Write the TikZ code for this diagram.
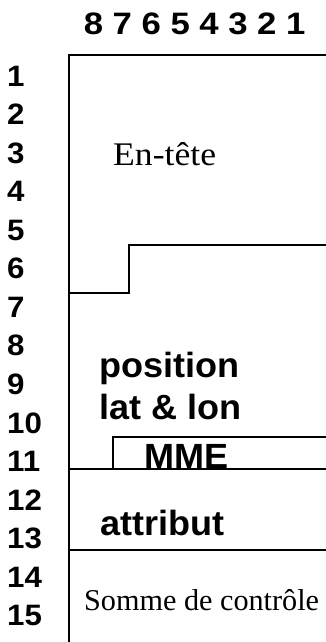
\documentclass[tikz,border=0pt]{standalone}
\usepackage{fontspec}
\setmainfont{Liberation Serif}
\setsansfont{Liberation Sans}
\newfontfamily\hdrfont[FakeStretch=1.12]{Liberation Sans Bold}
\newfontfamily\lblfont[FakeStretch=1.06]{Liberation Sans Bold}
\newfontfamily\bldfont[FakeStretch=1.03]{Liberation Sans Bold}
\newfontfamily\serA[FakeStretch=1.08]{Liberation Serif}
\begin{document}
\begin{tikzpicture}[x=1pt,y=-1pt,
  lbl/.style={inner sep=0pt,anchor=base west,font=\lblfont\fontsize{29.5}{29.5}\selectfont},
  hdr/.style={inner sep=0pt,anchor=base,font=\hdrfont\fontsize{31}{31}\selectfont},
  boldtxt/.style={inner sep=0pt,anchor=base west,font=\bldfont\fontsize{35}{35}\selectfont},
  sertxt/.style={inner sep=0pt,anchor=base west},
  rule/.style={line width=1.3pt,line cap=rect}]
\useasboundingbox (0,0) rectangle (326,642);
% header digits
\foreach \d [count=\k from 0] in {8,7,6,5,4,3,2,1}
  \node[hdr] (h\d) at ({93.5+28.9*\k},35) {\d};
% row labels
\foreach \i in {1,...,15}
  \node[lbl] (r\i) at (7,{86+38.57*(\i-1)}) {\i};
% frame lines
\draw[rule] (326,55) -- (69,55) -- (69,642);
\draw[rule] (69,293) -- (129,293) -- (129,245) -- (326,245);
\draw[rule] (113,469) -- (113,437) -- (326,437);
\draw[rule] (69,469) -- (326,469);
\draw[rule] (69,550) -- (326,550);
% texts
\node[sertxt,font=\serA\fontsize{33}{33}\selectfont] (entete) at (113,165) {En-tête};
\node[boldtxt] (pos) at (99,377) {position};
\node[boldtxt] (latlon) at (99,419) {lat \& lon};
\node[boldtxt] (mme) at (144.5,468) {MME};
\node[boldtxt] (attr) at (100,535) {attribut};
\node[sertxt,font=\fontsize{30.2}{30.2}\selectfont] (somme) at (84,610) {Somme de contrôle};
\end{tikzpicture}
\end{document}
